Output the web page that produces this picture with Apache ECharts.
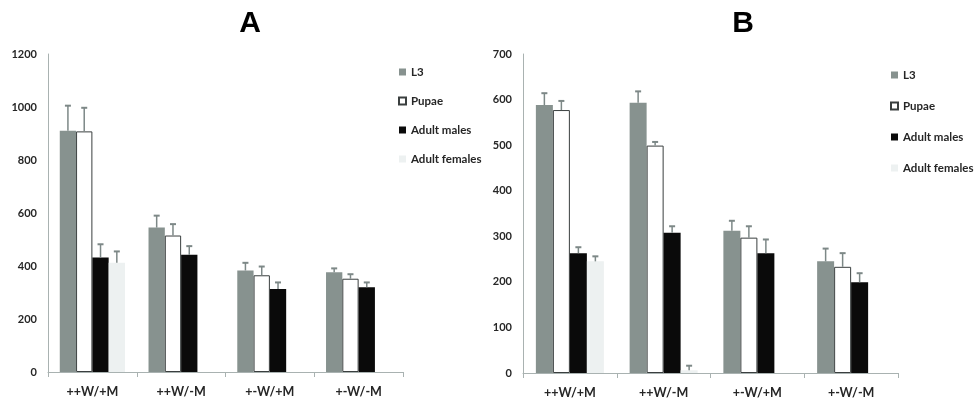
<!DOCTYPE html>
<html>
<head>
<meta charset="utf-8">
<script src="https://cdn.jsdelivr.net/npm/echarts@6/dist/echarts.min.js"></script>
<style>
  html, body { margin: 0; padding: 0; background: #fff; }
  #main { width: 976px; height: 406px; }
</style>
</head>
<body>
<div id="main"></div>
<script>
// categories and values
var categories = ['++W/+M', '++W/-M', '+-W/+M', '+-W/-M'];
var seriesNames = ['L3', 'Pupae', 'Adult males', 'Adult females'];

// panel A
var aL3 = [910, 545, 383, 376];
var aL3Err = [1005, 590, 412, 391];
var aPupae = [908, 515, 365, 352];
var aPupaeErr = [997, 558, 398, 369];
var aMales = [432, 442, 313, 320];
var aMalesErr = [482, 475, 338, 338];
var aFemales = [412, null, null, null];
var aFemalesErr = [455, null, null, null];
var aTicks = [0, 200, 400, 600, 800, 1000, 1200];

// panel B
var bL3 = [588, 593, 312, 245];
var bL3Err = [614, 618, 334, 273];
var bPupae = [577, 499, 297, 233];
var bPupaeErr = [597, 507, 322, 263];
var bMales = [263, 308, 263, 199];
var bMalesErr = [276, 322, 293, 219];
var bFemales = [245, 6, null, null];
var bFemalesErr = [256, 16, null, null];
var bTicks = [0, 100, 200, 300, 400, 500, 600, 700];

var colors = ['#87928f', '#ffffff', '#0a0a0a', '#edf1f1'];
var borders = ['#87928f', '#3a3f3f', '#0a0a0a', '#edf1f1'];
var errColor = '#7d8887';
var labelFont = { fontFamily: 'Lato', fontWeight: 'bold', color: '#262626' };

var chart = echarts.init(document.getElementById('main'));

function makeBars(idx, lists, bw) {
  return lists.map(function (vals, k) {
    return {
      name: seriesNames[k],
      type: 'bar',
      xAxisIndex: idx,
      yAxisIndex: idx,
      barWidth: bw,
      barGap: '0%',
      data: vals,
      itemStyle: { color: colors[k], borderColor: borders[k], borderWidth: k === 1 ? 1 : 0 },
      emphasis: { disabled: true }
    };
  });
}

// error bars: [category, slot, barTop, errTop]
function makeErr(idx, lists, errs, bw) {
  var data = [];
  lists.forEach(function (vals, k) {
    vals.forEach(function (v, i) {
      if (v !== null && errs[k][i] !== null) data.push([i, k, v, errs[k][i]]);
    });
  });
  return {
    name: 'err' + idx,
    type: 'custom',
    xAxisIndex: idx,
    yAxisIndex: idx,
    z: 5,
    encode: { x: 0, y: 3 },
    data: data,
    renderItem: function (params, api) {
      var off = (api.value(1) - 1.5) * bw;
      var lo = api.coord([api.value(0), api.value(2)]);
      var hi = api.coord([api.value(0), api.value(3)]);
      var x = lo[0] + off;
      return {
        type: 'group',
        children: [
          { type: 'line', shape: { x1: x, y1: lo[1], x2: x, y2: hi[1] },
            style: { stroke: errColor, lineWidth: 1.5 } },
          { type: 'line', shape: { x1: x - 3, y1: hi[1], x2: x + 3, y2: hi[1] },
            style: { stroke: errColor, lineWidth: 2 } }
        ]
      };
    }
  };
}

function xAxis(idx) {
  return {
    type: 'category',
    gridIndex: idx,
    data: categories,
    axisLine: { lineStyle: { color: '#a9b2b1', width: 1 } },
    axisTick: { show: true, length: 5, lineStyle: { color: '#a9b2b1' } },
    axisLabel: Object.assign({ fontSize: 12.5, margin: 13 }, labelFont)
  };
}

function yAxis(idx, ticks) {
  return {
    type: 'value',
    gridIndex: idx,
    min: ticks[0],
    max: ticks[ticks.length - 1],
    interval: ticks[1] - ticks[0],
    axisLine: { show: true, lineStyle: { color: '#a9b2b1', width: 1 } },
    axisTick: { show: false },
    splitLine: { show: false },
    axisLabel: Object.assign({ fontSize: 11, margin: 11, formatter: function (v) { return String(v); } }, labelFont)
  };
}

function legend(left, top, gap) {
  return {
    orient: 'vertical',
    left: left,
    top: top,
    itemWidth: 7,
    itemHeight: 7,
    itemGap: gap,
    icon: 'rect',
    data: seriesNames,
    selectedMode: false,
    textStyle: Object.assign({ fontSize: 11.5, lineHeight: 14 }, labelFont)
  };
}

chart.setOption({
  animation: false,
  title: [
    { text: 'A', left: 245, top: 4, textAlign: 'center',
      textStyle: { fontSize: 30, fontWeight: 'bold', fontFamily: 'Liberation Sans', color: '#000' } },
    { text: 'B', left: 738, top: 4, textAlign: 'center',
      textStyle: { fontSize: 30, fontWeight: 'bold', fontFamily: 'Liberation Sans', color: '#000' } }
  ],
  legend: [legend(393, 60, 15), legend(885, 63, 17)],
  grid: [
    { left: 48, top: 54, width: 355, height: 318 },
    { left: 523, top: 54, width: 375, height: 319 }
  ],
  xAxis: [xAxis(0), xAxis(1)],
  yAxis: [yAxis(0, aTicks), yAxis(1, bTicks)],
  series: []
    .concat(makeBars(0, [aL3, aPupae, aMales, aFemales], 16.3))
    .concat(makeBars(1, [bL3, bPupae, bMales, bFemales], 17))
    .concat([
      makeErr(0, [aL3, aPupae, aMales, aFemales], [aL3Err, aPupaeErr, aMalesErr, aFemalesErr], 16.3),
      makeErr(1, [bL3, bPupae, bMales, bFemales], [bL3Err, bPupaeErr, bMalesErr, bFemalesErr], 17)
    ])
});
</script>
</body>
</html>
